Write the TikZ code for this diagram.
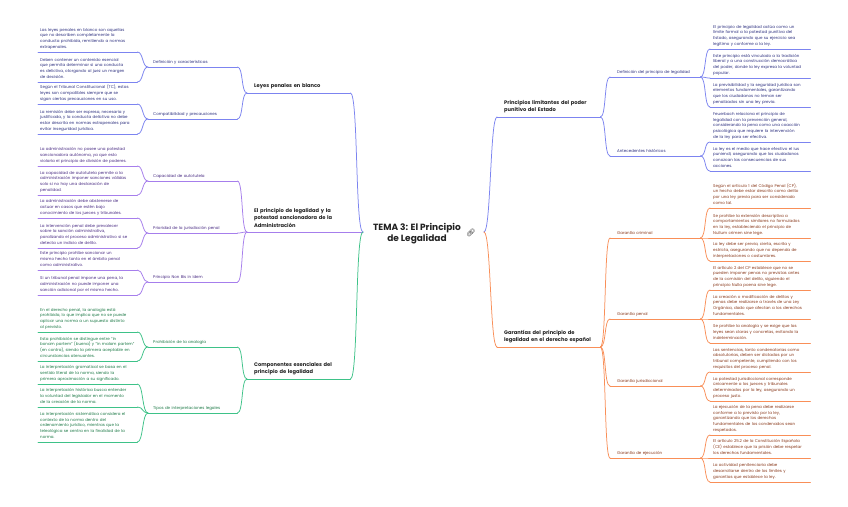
\documentclass[tikz,border=0pt]{standalone}
\usepackage{fontspec}
\setmainfont{Poppins}
\newfontfamily\emojifont{Noto Emoji}
\definecolor{blL}{HTML}{7C84F0}
\definecolor{blT}{HTML}{2E3180}
\definecolor{puL}{HTML}{A67EEC}
\definecolor{puT}{HTML}{4A2C84}
\definecolor{grL}{HTML}{3EC288}
\definecolor{grT}{HTML}{1D7A47}
\definecolor{orL}{HTML}{F98F58}
\definecolor{orT}{HTML}{8A3A1C}
\definecolor{mainT}{HTML}{222222}
\newcommand{\dpstrut}{\rule[-1pt]{0pt}{1pt}}
\tikzset{
  leaf/.style={anchor=south west, align=left, font=\fontsize{4}{5.7}\selectfont, inner ysep=2.5pt},
  subn/.style={anchor=south west, align=left, font=\fontsize{4}{5}\selectfont, inner ysep=2.5pt},
  mainn/.style={anchor=south west, align=left, font=\fontsize{5.15}{7.6}\selectfont\bfseries, text=mainT, inner ysep=3.5pt},
  titlen/.style={align=center, font=\fontsize{9}{11.2}\selectfont\bfseries, text=mainT, inner sep=0pt},
  conn/.style={line width=0.75pt, line cap=round}
}
\newcommand{\leafL}[4]{\node[leaf,text=#3T,inner xsep=2pt,text width=95pt] (#1) at (38,#2) {#4\dpstrut};
  \draw[conn,#3L] (#1.south west) -- (#1.south east);}
\newcommand{\leafR}[4]{\node[leaf,text=#3T,inner xsep=3pt,text width=94pt] (#1) at (710,#2) {#4\dpstrut};
  \draw[conn,#3L] (#1.south west) -- (#1.south east);}
\newcommand{\subL}[4]{\node[subn,text=#3T,inner xsep=5pt,text width=79pt] (#1) at (148,#2) {#4\dpstrut};
  \draw[conn,#3L] (#1.south west) -- (#1.south east);}
\newcommand{\subR}[4]{\node[subn,text=#3T,inner xsep=7pt,text width=76pt] (#1) at (610,#2) {#4\dpstrut};
  \draw[conn,#3L] (#1.south west) -- (#1.south east);}
\newcommand{\lnk}[3]{\draw[conn,#3L] (#1.south east) .. controls +(6,0) and +(-6,0) .. (#2.south west);}
\begin{document}
\begin{tikzpicture}[x=1pt,y=-1pt]
\useasboundingbox (0,0) rectangle (848,506);
\fill[white] (0,0) rectangle (848,506);

% ---------- center ----------
\node[titlen] (center) at (417,233.5) {TEMA 3: El Principio\\de Legalidad};
\node[font=\emojifont\fontsize{7.5}{7.5}\selectfont, text=mainT, inner sep=0pt] (icon) at (471,233) {🔗};
\coordinate (cL) at (363,232);
\coordinate (cR) at (484,232);

% ---------- main nodes ----------
\node[mainn,inner xsep=7pt,text width=89pt] (M1) at (247,93) {Leyes penales en blanco\dpstrut};
\draw[conn,blL] (M1.south west) -- (M1.south east);
\node[mainn,inner xsep=7pt,text width=102pt] (M2) at (247,232) {El principio de legalidad y la\\potestad sancionadora de la\\Administración\dpstrut};
\draw[conn,puL] (M2.south west) -- (cL);
\node[mainn,inner xsep=7pt,text width=89pt] (M3) at (247,379) {Componentes esenciales del\\principio de legalidad\dpstrut};
\draw[conn,grL] (M3.south west) -- (M3.south east);
\node[mainn,inner xsep=7pt,text width=89pt] (M4) at (497,117) {Principios limitantes del poder\\punitivo del Estado\dpstrut};
\draw[conn,blL] (M4.south west) -- (M4.south east);
\node[mainn,inner xsep=7pt,text width=89pt] (M5) at (497,347) {Garantías del principio de\\legalidad en el derecho español\dpstrut};
\draw[conn,orL] (M5.south west) -- (M5.south east);

\draw[conn,blL] (M1.south east) .. controls +(8,0) and +(-8,0) .. (cL);
\draw[conn,grL] (M3.south east) .. controls +(8,0) and +(-8,0) .. (cL);
\draw[conn,blL] (cR) .. controls +(7,0) and +(-7,0) .. (M4.south west);
\draw[conn,orL] (cR) .. controls +(7,0) and +(-7,0) .. (M5.south west);

% ---------- Leyes penales en blanco ----------
\subL{S11}{67}{bl}{Definición y características}
\subL{S12}{119}{bl}{Compatibilidad y precauciones}
\lnk{S11}{M1}{bl} \lnk{S12}{M1}{bl}
\leafL{L111}{52}{bl}{Las leyes penales en blanco son aquellas\\que no describen completamente la\\conducta prohibida, remitiendo a normas\\extrapenales.}
\leafL{L112}{82}{bl}{Deben contener un contenido esencial\\que permita determinar si una conducta\\es delictiva, otorgando al juez un margen\\de decisión.}
\leafL{L121}{104}{bl}{Según el Tribunal Constitucional (TC), estas\\leyes son compatibles siempre que se\\sigan ciertas precauciones en su uso.}
\leafL{L122}{134}{bl}{La remisión debe ser expresa, necesaria y\\justificada, y la conducta delictiva no debe\\estar descrita en normas extrapenales para\\evitar inseguridad jurídica.}
\lnk{L111}{S11}{bl} \lnk{L112}{S11}{bl}
\lnk{L121}{S12}{bl} \lnk{L122}{S12}{bl}

% ---------- Potestad sancionadora ----------
\subL{S21}{181}{pu}{Capacidad de autotutela}
\subL{S22}{233}{pu}{Prioridad de la jurisdicción penal}
\subL{S23}{282}{pu}{Principio Non Bis in Idem}
\lnk{S21}{M2}{pu} \lnk{S22}{M2}{pu} \lnk{S23}{M2}{pu}
\leafL{L211}{166}{pu}{La administración no posee una potestad\\sancionadora autónoma, ya que esto\\violaría el principio de división de poderes.}
\leafL{L212}{195}{pu}{La capacidad de autotutela permite a la\\administración imponer sanciones válidas\\solo si no hay una declaración de\\penalidad.}
\leafL{L221}{218}{pu}{La administración debe abstenerse de\\actuar en casos que estén bajo\\conocimiento de los jueces y tribunales.}
\leafL{L222}{248}{pu}{La intervención penal debe prevalecer\\sobre la sanción administrativa,\\paralizando el proceso administrativo si se\\detecta un indicio de delito.}
\leafL{L231}{270}{pu}{Este principio prohíbe sancionar un\\mismo hecho tanto en el ámbito penal\\como administrativo.}
\leafL{L232}{295}{pu}{Si un tribunal penal impone una pena, la\\administración no puede imponer una\\sanción adicional por el mismo hecho.}
\lnk{L211}{S21}{pu} \lnk{L212}{S21}{pu}
\lnk{L221}{S22}{pu} \lnk{L222}{S22}{pu}
\lnk{L231}{S23}{pu} \lnk{L232}{S23}{pu}

% ---------- Componentes esenciales ----------
\subL{S31}{347}{gr}{Prohibición de la analogía}
\subL{S32}{413}{gr}{Tipos de interpretaciones legales}
\lnk{S31}{M3}{gr} \lnk{S32}{M3}{gr}
\leafL{L311}{332}{gr}{En el derecho penal, la analogía está\\prohibida, lo que implica que no se puede\\aplicar una norma a un supuesto distinto\\al previsto.}
\leafL{L312}{361}{gr}{Esta prohibición se distingue entre "in\\bonam partem" (buena) y "in malam partem"\\(en contra), siendo la primera aceptable en\\circunstancias atenuantes.}
\leafL{L321}{384}{gr}{La interpretación gramatical se basa en el\\sentido literal de la norma, siendo la\\primera aproximación a su significado.}
\leafL{L322}{407}{gr}{La interpretación histórica busca entender\\la voluntad del legislador en el momento\\de la creación de la norma.}
\leafL{L323}{442}{gr}{La interpretación sistemática considera el\\contexto de la norma dentro del\\ordenamiento jurídico, mientras que la\\teleológica se centra en la finalidad de la\\norma.}
\lnk{L311}{S31}{gr} \lnk{L312}{S31}{gr}
\lnk{L321}{S32}{gr} \lnk{L322}{S32}{gr} \lnk{L323}{S32}{gr}

% ---------- Principios limitantes ----------
\subR{S41}{77}{bl}{Definición del principio de legalidad}
\subR{S42}{156}{bl}{Antecedentes históricos}
\lnk{M4}{S41}{bl} \lnk{M4}{S42}{bl}
\leafR{L411}{49}{bl}{El principio de legalidad actúa como un\\límite formal a la potestad punitiva del\\Estado, asegurando que su ejercicio sea\\legítimo y conforme a la ley.}
\leafR{L412}{78}{bl}{Este principio está vinculado a la tradición\\liberal y a una construcción democrática\\del poder, donde la ley expresa la voluntad\\popular.}
\leafR{L413}{107}{bl}{La previsibilidad y la seguridad jurídica son\\elementos fundamentales, garantizando\\que los ciudadanos no teman ser\\penalizados sin una ley previa.}
\leafR{L421}{142}{bl}{Feuerbach relaciona el principio de\\legalidad con la prevención general,\\considerando la pena como una coacción\\psicológica que requiere la intervención\\de la ley para ser efectiva.}
\leafR{L422}{171}{bl}{La ley es el medio que hace efectivo el ius\\puniendi, asegurando que los ciudadanos\\conozcan las consecuencias de sus\\acciones.}
\lnk{S41}{L411}{bl} \lnk{S41}{L412}{bl} \lnk{S41}{L413}{bl}
\lnk{S42}{L421}{bl} \lnk{S42}{L422}{bl}

% ---------- Garantías ----------
\subR{S51}{238}{or}{Garantía criminal}
\subR{S52}{319}{or}{Garantía penal}
\subR{S53}{386}{or}{Garantía jurisdiccional}
\subR{S54}{458}{or}{Garantía de ejecución}
\lnk{M5}{S51}{or} \lnk{M5}{S52}{or} \lnk{M5}{S53}{or} \lnk{M5}{S54}{or}
\leafR{L511}{208}{or}{Según el artículo 1 del Código Penal (CP),\\un hecho debe estar descrito como delito\\por una ley previa para ser considerado\\como tal.}
\leafR{L512}{238}{or}{Se prohíbe la extensión descriptiva a\\comportamientos similares no formulados\\en la ley, estableciendo el principio de\\Nullum crimen sine lege.}
\leafR{L513}{261}{or}{La ley debe ser previa, cierta, escrita y\\estricta, asegurando que no dependa de\\interpretaciones o costumbres.}
\leafR{L521}{290}{or}{El artículo 2 del CP establece que no se\\pueden imponer penas no previstas antes\\de la comisión del delito, siguiendo el\\principio Nulla poena sine lege.}
\leafR{L522}{319}{or}{La creación o modificación de delitos y\\penas debe realizarse a través de una Ley\\Orgánica, dado que afectan a los derechos\\fundamentales.}
\leafR{L523}{343}{or}{Se prohíbe la analogía y se exige que las\\leyes sean claras y concretas, evitando la\\indeterminación.}
\leafR{L531}{372}{or}{Las sentencias, tanto condenatorias como\\absolutorias, deben ser dictadas por un\\tribunal competente, cumpliendo con los\\requisitos del proceso penal.}
\leafR{L532}{401}{or}{La potestad jurisdiccional corresponde\\únicamente a los jueces y tribunales\\determinados por la ley, asegurando un\\proceso justo.}
\leafR{L541}{435}{or}{La ejecución de la pena debe realizarse\\conforme a lo previsto por la ley,\\garantizando que los derechos\\fundamentales de los condenados sean\\respetados.}
\leafR{L542}{458}{or}{El artículo 25.2 de la Constitución Española\\(CE) establece que la prisión debe respetar\\los derechos fundamentales.}
\leafR{L543}{482}{or}{La actividad penitenciaria debe\\desarrollarse dentro de los límites y\\garantías que establece la ley.}
\lnk{S51}{L511}{or} \lnk{S51}{L512}{or} \lnk{S51}{L513}{or}
\lnk{S52}{L521}{or} \lnk{S52}{L522}{or} \lnk{S52}{L523}{or}
\lnk{S53}{L531}{or} \lnk{S53}{L532}{or}
\lnk{S54}{L541}{or} \lnk{S54}{L542}{or} \lnk{S54}{L543}{or}
\end{tikzpicture}
\end{document}
